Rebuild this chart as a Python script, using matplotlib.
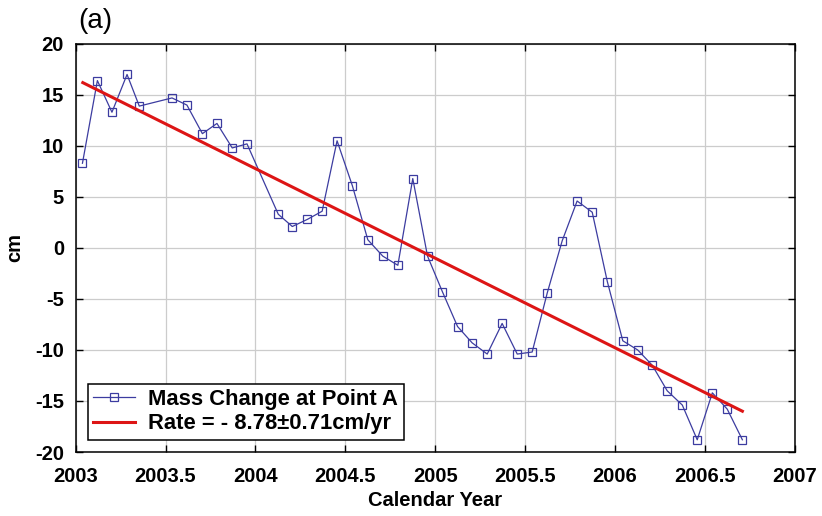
import numpy as np
import matplotlib.pyplot as plt

plt.rcParams['font.family'] = ['Liberation Sans', 'DejaVu Sans']
plt.rcParams['axes.unicode_minus'] = False

# monthly mass change at point A (cm)
year = [2003.038, 2003.121, 2003.202, 2003.286, 2003.354, 2003.536, 2003.619,
        2003.705, 2003.786, 2003.871, 2003.953, 2004.127, 2004.205, 2004.289,
        2004.371, 2004.454, 2004.539, 2004.625, 2004.708, 2004.792, 2004.875,
        2004.957, 2005.040, 2005.124, 2005.205, 2005.289, 2005.372, 2005.456,
        2005.539, 2005.623, 2005.706, 2005.789, 2005.873, 2005.957, 2006.043,
        2006.126, 2006.207, 2006.290, 2006.374, 2006.457, 2006.541, 2006.624,
        2006.708]
mass = [8.3, 16.4, 13.3, 17.0, 13.9, 14.7, 14.0, 11.2, 12.2, 9.8, 10.2,
        3.3, 2.1, 2.8, 3.6, 10.5, 6.1, 0.8, -0.8, -1.7, 6.8, -0.8,
        -4.3, -7.7, -9.3, -10.4, -7.4, -10.4, -10.2, -4.4, 0.7, 4.6, 3.5,
        -3.3, -9.1, -10.0, -11.5, -14.0, -15.4, -18.8, -14.2, -15.8, -18.8]

# linear trend endpoints
fit_year = [2003.04, 2006.708]
fit_mass = [16.2, -16.0]

fig = plt.figure(figsize=(8.22, 5.16), dpi=100)
ax = fig.add_axes([0.092, 0.124, 0.875, 0.791])

l_mass, = ax.plot(year, mass, color='#3c3ca0', lw=0.9, marker='s', ms=6,
                  mfc='none', mec='#3c3ca0', mew=0.9, zorder=3,
                  label='Mass Change at Point A')
l_fit, = ax.plot(fit_year, fit_mass, color='#dd1515', lw=2.2, zorder=4,
                 label='Rate = - 8.78±0.71cm/yr')

ax.set_xlim(2003, 2007)
ax.set_ylim(-20, 20)
ax.set_xticks(np.arange(2003, 2007.01, 0.5))
ax.set_xticklabels(['2003', '2003.5', '2004', '2004.5', '2005', '2005.5',
                    '2006', '2006.5', '2007'])
ax.set_yticks(np.arange(-20, 21, 5))
ax.grid(True, color='#cccccc', lw=0.9)
ax.set_axisbelow(True)
ax.tick_params(direction='in', top=True, right=True, length=5, width=1,
               labelsize=14.5)
ax.tick_params(axis='x', pad=10.5)
ax.tick_params(axis='y', pad=8.3)
for lab in ax.get_xticklabels() + ax.get_yticklabels():
    lab.set_fontweight('bold')
for sp in ax.spines.values():
    sp.set_linewidth(1.1)

ax.set_xlabel('Calendar Year', fontsize=14.5, fontweight='bold', labelpad=4)
ax.set_ylabel('cm', fontsize=14.5, fontweight='bold')
ax.yaxis.set_label_coords(-0.072, 0.5)

leg = ax.legend(handles=[l_mass, l_fit], loc='lower left',
                bbox_to_anchor=(0.017, 0.03), borderaxespad=0,
                prop={'size': 15.8, 'weight': 'bold'}, handlelength=1.9,
                handletextpad=0.6, labelspacing=0.15, borderpad=0.25,
                fancybox=False, framealpha=1, edgecolor='black')
leg.get_frame().set_linewidth(1.1)

fig.text(0.095, 0.945, '(a)', fontsize=20)

fig.savefig('out.png', dpi=100)
